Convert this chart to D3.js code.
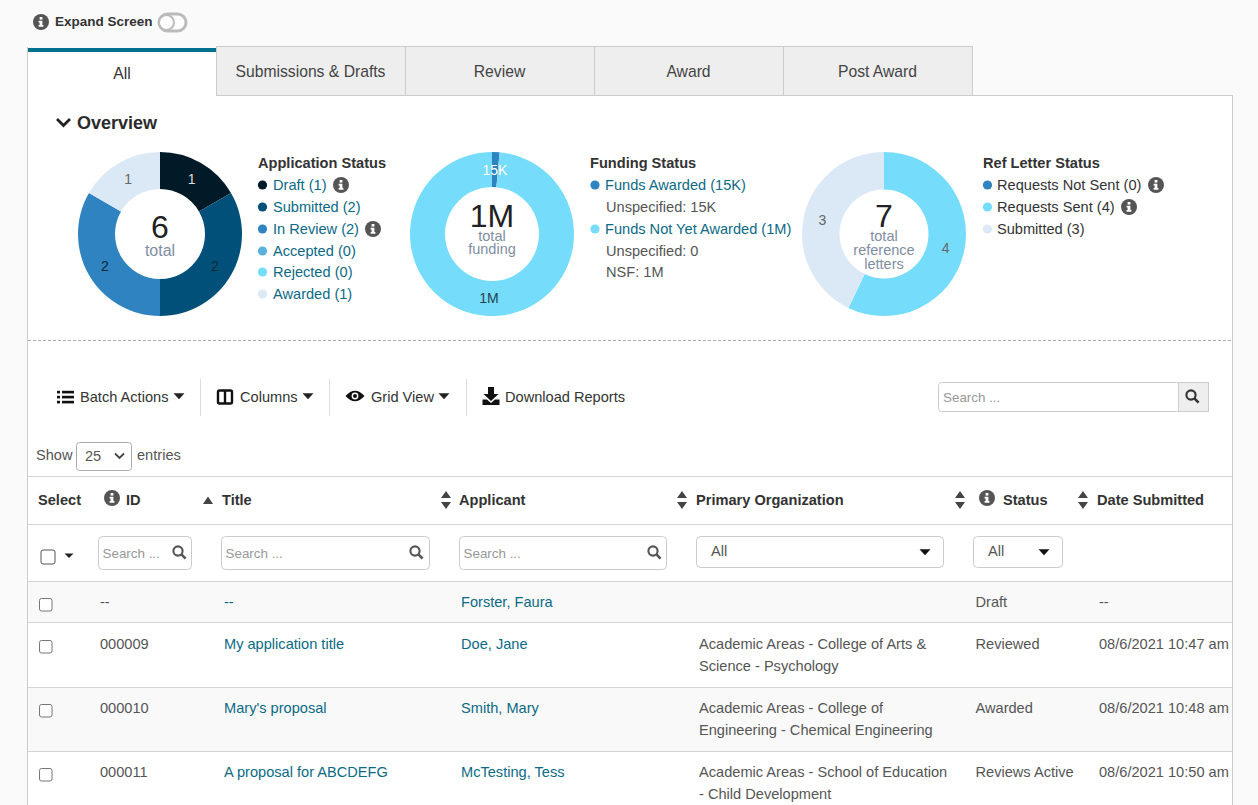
<!DOCTYPE html>
<html><head><meta charset="utf-8">
<script src="https://cdn.jsdelivr.net/npm/d3@7"></script>
<style>html,body{margin:0;padding:0;background:#fafafa;overflow:hidden}svg{display:block}text{font-family:"Liberation Sans",Arial,sans-serif}</style>
</head><body><svg id="c" width="1258" height="805"></svg>
<script>
// ---- data ----
const appLabels=["Draft","Submitted","In Review","Accepted","Rejected","Awarded"];
const appValues=[1,2,2,0,0,1];
const appColors=["#011a27","#00507a","#2e83c0","#5ab1e0","#76dcfc","#dbe9f7"];
const appTextColors=["#ddd","#0b2a3a","#0b2a3a","#333","#333","#666"];
const fundLabels=["Funds Awarded","Funds Not Yet Awarded"];
const fundValues=[15000,1000000];
const fundText=["15K","1M"];
const fundColors=["#2e83c0","#76dcfc"];
const fundTextColors=["#fff","#24414f"];
const refLabels=["Requests Not Sent","Requests Sent","Submitted"];
const refValues=[0,4,3];
const refColors=["#2e83c0","#76dcfc","#dbe9f7"];
const refTextColors=["#666","#666","#666"];
const tabs=["All","Submissions & Drafts","Review","Award","Post Award"];
const rowIds=["--","000009","000010","000011"];
const rowTitles=["--","My application title","Mary's proposal","A proposal for ABCDEFG"];
const rowApplicants=["Forster, Faura","Doe, Jane","Smith, Mary","McTesting, Tess"];
const rowOrgs=[[],["Academic Areas - College of Arts &","Science - Psychology"],["Academic Areas - College of","Engineering - Chemical Engineering"],["Academic Areas - School of Education","- Child Development"]];
const rowStatus=["Draft","Reviewed","Awarded","Reviews Active"];
const rowDates=["--","08/6/2021 10:47 am","08/6/2021 10:48 am","08/6/2021 10:50 am"];

const svg=d3.select("#c");
const FS=14.6, LINK="#0b6a85", DARK="#333", GREY="#555", LINE="#ccc";
function T(x,y,s,o={}){return svg.append("text").attr("x",x).attr("y",y).text(s)
 .attr("font-size",o.size||FS).attr("font-weight",o.bold?700:400).attr("fill",o.fill||DARK).attr("text-anchor",o.anchor||"start");}
function R(x,y,w,h,fill,stroke,rx){return svg.append("rect").attr("x",x).attr("y",y).attr("width",w).attr("height",h)
 .attr("fill",fill||"none").attr("stroke",stroke||"none").attr("rx",rx||0);}
function L(x1,y1,x2,y2,c,dash){const l=svg.append("line").attr("x1",x1).attr("y1",y1).attr("x2",x2).attr("y2",y2).attr("stroke",c||LINE);if(dash)l.attr("stroke-dasharray",dash);return l;}
function info(x,y,r=8){const g=svg.append("g").attr("transform",`translate(${x},${y}) scale(${r/8})`);
 g.append("circle").attr("r",8).attr("fill","#555");
 g.append("rect").attr("x",-1.4).attr("y",-5).attr("width",2.8).attr("height",2.6).attr("fill","#fff");
 g.append("path").attr("d","M-2.4,-1.2H1.4V3H2.4V4.8H-2.4V3H-1.4V0.6H-2.4Z").attr("fill","#fff");}
function caret(x,y,c="#222",w=5.5,h=5.5){svg.append("path").attr("d",`M${x-w},${y-h/2}H${x+w}L${x},${y+h/2+.5}Z`).attr("fill",c);}
function sort(x,y){svg.append("path").attr("d",`M${x-5},${y-2}L${x},${y-9}L${x+5},${y-2}ZM${x-5},${y+2}L${x},${y+9}L${x+5},${y+2}Z`).attr("fill","#444");}
function mag(x,y,c="#555"){svg.append("circle").attr("cx",x).attr("cy",y).attr("r",4.6).attr("fill","none").attr("stroke",c).attr("stroke-width",2.1);
 svg.append("line").attr("x1",x+3.4).attr("y1",y+3.4).attr("x2",x+7.6).attr("y2",y+7.6).attr("stroke",c).attr("stroke-width",2.6);}
function check(x,y,s=12.5,c="#777"){R(x,y,s,s,"#fff",c,2);}

// top bar
info(41,22,8);
T(55,26,"Expand Screen",{bold:true,size:13.5,fill:"#333"});
R(159,14,27,17,"#fff","#bbb",8.5).attr("stroke-width",3);
svg.append("circle").attr("cx",166.5).attr("cy",22.5).attr("r",7.5).attr("fill","#fff").attr("stroke","#bbb").attr("stroke-width",2);

// panel and tabs
R(27.5,95.5,1205,720,"#fff",LINE);
const tabW=189;
tabs.slice(1).forEach((t,i)=>{const x=216+i*tabW;R(x+.5,46.5,tabW,49,"#eee",LINE);
 T(x+tabW/2,77,t,{size:15.7,anchor:"middle",fill:"#444"});});
R(28,48,188,48,"#fff");
R(28,48,188,4,"#00708c");
L(27.5,47,27.5,96);
T(122,79,"All",{size:15.7,anchor:"middle",fill:"#333"});

// overview
svg.append("path").attr("d","M57,119L63.5,125.5L70,119").attr("fill","none").attr("stroke","#222").attr("stroke-width",2.8);
T(77,129,"Overview",{bold:true,size:18,fill:"#2b2b2b"});

function donut(cx,cy,inner,vals,cols,txtCols,txts){
 const pie=d3.pie().sort(null).value(d=>d)(vals);
 const arc=d3.arc().innerRadius(inner).outerRadius(82);
 const g=svg.append("g").attr("transform",`translate(${cx},${cy})`);
 g.selectAll("path").data(pie).join("path").attr("d",arc).attr("fill",(d,i)=>cols[i]);
 g.selectAll("text").data(pie.filter(d=>d.value>0)).join("text")
  .attr("transform",d=>`translate(${arc.centroid(d)})`).attr("dy",5).attr("text-anchor","middle")
  .attr("font-size",14).attr("fill",d=>txtCols[d.index]).text(d=>txts[d.index]);
}
donut(160,234,45,appValues,appColors,appTextColors,appValues.map(String));
donut(492,234,47,fundValues,fundColors,fundTextColors,fundText);
donut(884,234,44.5,refValues,refColors,refTextColors,refValues.map(String));
const SUB="#7f8da3";
T(160,238,d3.sum(appValues),{size:32,anchor:"middle",fill:"#222"});
T(160,256,"total",{size:16,anchor:"middle",fill:SUB});
T(492,227,"1M",{size:32,anchor:"middle",fill:"#222"});
T(492,241,"total",{size:14.5,anchor:"middle",fill:SUB});
T(492,254,"funding",{size:14.5,anchor:"middle",fill:SUB});
T(884,227,d3.sum(refValues),{size:32,anchor:"middle",fill:"#222"});
T(884,241,"total",{size:14.5,anchor:"middle",fill:SUB});
T(884,255,"reference",{size:14.5,anchor:"middle",fill:SUB});
T(884,269,"letters",{size:14.5,anchor:"middle",fill:SUB});

// legends
const dot=(x,y,c)=>svg.append("circle").attr("cx",x).attr("cy",y).attr("r",4.6).attr("fill",c);
T(258,168,"Application Status",{bold:true});
const appY=[185,207,229,251,272,294];
appLabels.forEach((l,i)=>{dot(262.5,appY[i],appColors[i]);T(273,appY[i]+5,`${l} (${appValues[i]})`,{fill:LINK});});
info(341,185);info(373,229);
T(590,168,"Funding Status",{bold:true});
dot(595,185,fundColors[0]);T(605,190,`${fundLabels[0]} (15K)`,{fill:LINK});
T(606,212,"Unspecified: 15K",{fill:GREY});
dot(595,229,fundColors[1]);T(605,234,`${fundLabels[1]} (1M)`,{fill:LINK});
T(606,256,"Unspecified: 0",{fill:GREY});
T(606,277,"NSF: 1M",{fill:GREY});
T(983,168,"Ref Letter Status",{bold:true});
const refY=[185,207,229];
refLabels.forEach((l,i)=>{dot(987.5,refY[i],refColors[i]);T(997,refY[i]+5,`${l} (${refValues[i]})`,{fill:DARK});});
info(1156,185);info(1129,207);
L(28,340.5,1232,340.5,"#aaa","3,2");

// toolbar
[200.5,329.5,466.5].forEach(x=>L(x,379,x,416,"#ddd"));
[392,397,402].forEach(y=>{svg.append("rect").attr("x",57).attr("y",y-1.2).attr("width",3).attr("height",2.6).attr("fill","#111");
 svg.append("rect").attr("x",62).attr("y",y-1.2).attr("width",12).attr("height",2.6).attr("fill","#111");});
T(80,402,"Batch Actions");caret(179,396,"#222");
R(218,390.5,14,13,"#fff","#111",1.5).attr("stroke-width",2.4);L(225,391,225,404,"#111").attr("stroke-width",2.4);
T(240,402,"Columns");caret(308,396,"#222");
svg.append("path").attr("d","M345.5,396Q355,385.5 364.5,396Q355,406.5 345.5,396Z").attr("fill","#111");
svg.append("circle").attr("cx",355).attr("cy",396).attr("r",3.4).attr("fill","#fff");
svg.append("circle").attr("cx",355).attr("cy",396).attr("r",2).attr("fill","#111");
T(371,402,"Grid View");caret(444,396,"#222");
svg.append("path").attr("d","M488,387H494V394H498.5L491,401L483.5,394H488ZM482.5,399.5H487L491,403L495,399.5H499.5V405H482.5Z").attr("fill","#111");
T(505,402,"Download Reports");
R(938.5,382.5,241,29,"#fff",LINE,3);
R(1178.5,382.5,30,29,"#eee",LINE);
T(943,402,"Search ...",{fill:"#999",size:13.4});
mag(1191,395,"#333");

// show entries
T(36,460,"Show",{fill:GREY});
R(76.5,442.5,55,28,"#fff","#aaa",3);
T(85,461,"25",{fill:GREY});
svg.append("path").attr("d","M115,453.5L119.5,458L124,453.5").attr("fill","none").attr("stroke","#444").attr("stroke-width",1.8);
T(137,460,"entries",{fill:GREY});

// table
R(28,582,1204,40,"#f9f9f9");R(28,688,1204,63,"#f9f9f9");
[476.5,524.5,581.5,622.5,687.5,751.5].forEach(y=>L(28,y,1232,y,"#d4d4d4"));
R(1232,96,26,709,"#fafafa");L(1232.5,96,1232.5,805,LINE);
const hdr={bold:true,size:14.6,fill:"#333"};
T(38,505,"Select",hdr);
info(112,498,8);T(126,505,"ID",hdr);
svg.append("path").attr("d","M203,504L208,496.5L213,504Z").attr("fill","#444");
T(222,505,"Title",hdr);
sort(446,500);T(459,505,"Applicant",hdr);
sort(682,500);T(696,505,"Primary Organization",hdr);
sort(960,500);info(987,498,8);T(1003,505,"Status",hdr);
sort(1083,500);T(1097,505,"Date Submitted",hdr);

// filters
check(41,550,14,"#555");caret(69,555.5,"#222",4.5,4);
[[98.5,93,"Search ...",178],[221.5,208,"Search ...",415],[459.5,207,"Search ...",653]].forEach(([x,w,s,m])=>{
 R(x,536.5,w,33,"#fff",LINE,4);T(x+4,558,s,{fill:"#999",size:13.4});mag(m,551);});
R(696.5,536.5,247,31,"#fff",LINE,4);T(711,556,"All",{fill:GREY});caret(925,552,"#111");
R(973.5,536.5,89,31,"#fff",LINE,4);T(988,556,"All",{fill:GREY});caret(1044,552,"#111");

// rows
const rowY=[607,649,713,777];
const checkY=[598.5,640.5,704.5,768.5];
rowIds.forEach((id,i)=>{
 const y=rowY[i];
 check(39.5,checkY[i]);
 T(100,y,id,{fill:GREY});
 T(224,y,rowTitles[i],{fill:LINK});
 T(461,y,rowApplicants[i],{fill:LINK});
 rowOrgs[i].forEach((t,k)=>T(699,y+k*22,t,{fill:GREY}));
 T(975.5,y,rowStatus[i],{fill:GREY});
 T(1099,y,rowDates[i],{fill:GREY});
});
</script></body></html>
